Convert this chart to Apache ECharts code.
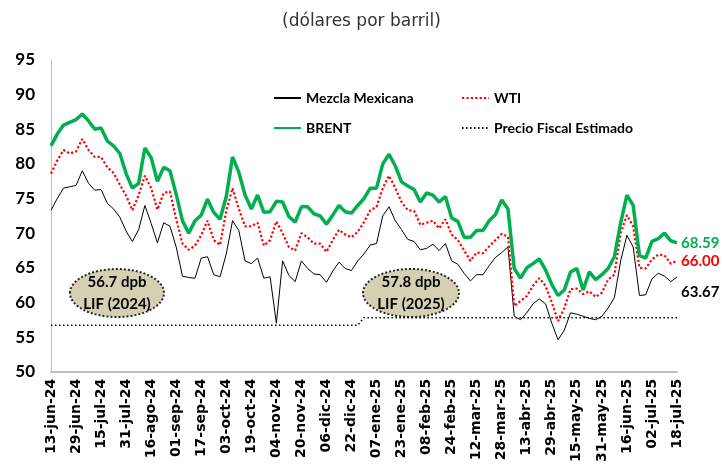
<!DOCTYPE html>
<html>
<head>
<meta charset="utf-8">
<script src="https://cdn.jsdelivr.net/npm/echarts@6/dist/echarts.min.js"></script>
<style>
  html, body { margin: 0; padding: 0; background: #fff; }
  #chart { width: 723px; height: 465px; }
</style>
</head>
<body>
<div id="chart"></div>
<script>
// fechas cada 4 dias, de 13-jun-24 a 18-jul-25
const MESES = ['ene', 'feb', 'mar', 'abr', 'may', 'jun', 'jul', 'ago', 'sep', 'oct', 'nov', 'dic']
const categories = []
for (let i = 0; i <= 100; i++) {
  const d = new Date(Date.UTC(2024, 5, 13 + i * 4))
  categories.push(String(d.getUTCDate()).padStart(2, '0') + '-' + MESES[d.getUTCMonth()] + '-' + String(d.getUTCFullYear()).slice(2))
}

const mezcla = [
  73.3, 75.0, 76.5, 76.7, 76.9, 79.0, 77.2, 76.2, 76.3, 74.3,
  73.5, 72.3, 70.3, 68.8, 70.5, 74.0, 71.4, 68.6, 71.5, 71.0,
  68.0, 63.8, 63.6, 63.5, 66.4, 66.6, 64.0, 63.7, 67.0, 71.8,
  70.4, 66.0, 65.6, 66.4, 63.5, 63.7, 57.0, 66.0, 63.9, 63.0,
  66.0, 64.9, 64.1, 64.0, 62.9, 64.5, 65.8, 64.9, 64.6, 66.0,
  67.0, 68.3, 68.5, 72.5, 73.8, 71.8, 70.5, 69.1, 68.8, 67.6,
  67.8, 68.4, 67.5, 68.5, 66.0, 65.5, 64.2, 63.1, 64.0, 64.0,
  65.3, 66.5, 67.2, 68.0, 58.0, 57.5, 58.5, 59.8, 60.5, 59.8,
  57.0, 54.6, 56.0, 58.5, 58.3, 58.0, 57.7, 57.5, 58.0, 59.2,
  60.7, 66.0, 69.7, 68.0, 61.0, 61.1, 63.4, 64.2, 63.8, 63.0,
  63.67
]
const wti = [
  78.6, 80.5, 82.0, 81.5, 81.8, 83.6, 82.0, 81.0, 81.0, 79.5,
  78.7, 77.0, 75.4, 73.3, 75.5, 78.3, 76.5, 73.4, 75.8, 76.0,
  72.0, 68.5, 67.6, 68.2, 69.7, 71.8, 69.0, 68.3, 73.2, 76.5,
  73.5, 71.0, 71.0, 71.5, 68.2, 69.0, 71.7, 70.0, 68.0, 67.5,
  70.0, 69.4, 68.5, 68.5, 67.3, 69.0, 70.5, 69.8, 69.4, 70.2,
  71.6, 73.3, 73.8, 76.5, 78.3, 76.5, 74.5, 73.3, 73.2, 71.2,
  71.5, 71.8, 70.7, 72.0, 69.8, 69.0, 67.5, 66.0, 67.2, 67.1,
  68.1, 69.0, 69.9, 69.5, 59.5, 60.2, 60.9, 62.4, 63.5, 62.4,
  60.0, 57.3, 59.2, 61.9, 62.0, 61.2, 61.6, 60.8, 61.4, 63.3,
  64.0, 70.0, 72.6, 71.0, 65.0, 64.9, 66.2, 66.9, 66.8, 65.6,
  66.00
]
const brent = [
  82.6, 84.3, 85.6, 86.0, 86.4, 87.2, 86.2, 85.0, 85.2, 83.3,
  82.6, 81.5, 78.6, 76.5, 77.2, 82.3, 80.9, 77.5, 79.5, 79.0,
  75.6, 71.8, 70.0, 71.8, 72.6, 74.9, 73.0, 72.0, 75.3, 81.0,
  78.8, 75.5, 73.5, 75.5, 73.0, 73.1, 74.6, 74.5, 72.4, 71.6,
  73.8, 73.8, 72.8, 72.5, 71.3, 72.6, 74.0, 73.1, 72.9, 74.0,
  75.0, 76.5, 76.5, 80.0, 81.4, 79.7, 77.4, 76.8, 76.3, 74.5,
  75.8, 75.5, 74.5, 75.3, 72.2, 71.7, 69.4, 69.4, 70.4, 70.4,
  71.8, 72.7, 74.8, 73.5, 64.9, 63.5, 65.0, 65.6, 66.3, 64.7,
  62.6, 61.0, 61.8, 64.4, 64.9, 61.8, 64.4, 63.3, 64.0, 64.9,
  66.6, 71.5, 75.5, 74.0, 66.8, 66.4, 68.8, 69.2, 70.0, 68.9,
  68.59
]
// precio fiscal estimado (LIF 2024 y LIF 2025)
const fiscalFechas = ['13-jun-24', '26-dic-24', '30-dic-24', '18-jul-25']
const fiscalValores = [56.7, 56.7, 57.8, 57.8]

const FONT = 'Lato, "Open Sans", sans-serif'
const myChart = echarts.init(document.getElementById('chart'))

const legendBase = {
  padding: 0,
  itemWidth: 27,
  itemHeight: 12,
  itemGap: 5,
  itemStyle: { opacity: 0 },
  textStyle: { fontFamily: FONT, fontWeight: 'bold', fontSize: 14, color: '#000' }
}

const endLabelBase = {
  show: true,
  formatter: p => p.value.toFixed(2),
  distance: 4,
  fontFamily: FONT,
  fontWeight: 'bold',
  fontSize: 15
}

const option = {
  animation: false,
  title: {
    text: '(dólares por barril)',
    left: 'center',
    top: 8,
    textStyle: { fontFamily: '"DejaVu Sans", sans-serif', fontWeight: 'normal', fontSize: 17, color: '#333' }
  },
  legend: [
    { ...legendBase, data: ['Mezcla Mexicana'], left: 273, top: 91 },
    { ...legendBase, data: ['WTI'], left: 461, top: 91 },
    { ...legendBase, data: ['BRENT'], left: 273, top: 121 },
    { ...legendBase, data: ['Precio Fiscal Estimado'], left: 461, top: 121 }
  ],
  grid: { left: 51, right: 46, top: 60, bottom: 93, containLabel: false },
  xAxis: {
    type: 'category',
    data: categories,
    boundaryGap: false,
    axisLine: { lineStyle: { color: '#bfbfbf', width: 2 } },
    axisTick: { show: false },
    axisLabel: {
      interval: 3,
      rotate: 90,
      margin: 7,
      fontFamily: '"DejaVu Sans", sans-serif',
      fontWeight: 'bold',
      fontSize: 14,
      color: '#000'
    }
  },
  yAxis: {
    type: 'value',
    min: 50,
    max: 95,
    interval: 5,
    splitLine: { show: false },
    axisTick: { show: false },
    axisLine: { show: true, lineStyle: { color: '#bfbfbf', width: 1 } },
    axisLabel: { margin: 16, fontFamily: FONT, fontWeight: 'bold', fontSize: 17, color: '#000' }
  },
  series: [
    {
      name: 'Precio Fiscal Estimado',
      type: 'line',
      data: fiscalFechas.map((f, i) => [f, fiscalValores[i]]),
      symbol: 'none',
      lineStyle: { color: '#000', width: 1.5, type: [1.5, 2.5] },
      itemStyle: { color: '#000' }
    },
    {
      name: 'Mezcla Mexicana',
      type: 'line',
      data: mezcla,
      symbol: 'none',
      lineStyle: { color: '#000', width: 1 },
      itemStyle: { color: '#000' },
      endLabel: { ...endLabelBase, offset: [0, 15], color: '#000' }
    },
    {
      name: 'WTI',
      type: 'line',
      data: wti,
      symbol: 'none',
      lineStyle: { color: '#ff0000', width: 2.2, type: [2.2, 2.2] },
      itemStyle: { color: '#ff0000' },
      endLabel: { ...endLabelBase, color: '#ff0000' }
    },
    {
      name: 'BRENT',
      type: 'line',
      data: brent,
      symbol: 'none',
      lineStyle: { color: '#00b050', width: 3.5 },
      itemStyle: { color: '#00b050' },
      endLabel: { ...endLabelBase, color: '#00b050' }
    }
  ],
  graphic: [
    {
      type: 'ellipse',
      shape: { cx: 117, cy: 293, rx: 47, ry: 24 },
      style: { fill: '#d6d0b2', stroke: '#262626', lineWidth: 2, lineDash: [2, 2] }
    },
    {
      type: 'text', x: 117, y: 282,
      style: { text: '56.7 dpb', font: 'bold 15px Lato', fill: '#000', align: 'center', verticalAlign: 'middle' }
    },
    {
      type: 'text', x: 117, y: 304,
      style: { text: 'LIF (2024)', font: 'bold 15px Lato', fill: '#000', align: 'center', verticalAlign: 'middle' }
    },
    {
      type: 'ellipse',
      shape: { cx: 411, cy: 293, rx: 48, ry: 24 },
      style: { fill: '#d6d0b2', stroke: '#262626', lineWidth: 2, lineDash: [2, 2] }
    },
    {
      type: 'text', x: 411, y: 282,
      style: { text: '57.8 dpb', font: 'bold 15px Lato', fill: '#000', align: 'center', verticalAlign: 'middle' }
    },
    {
      type: 'text', x: 411, y: 304,
      style: { text: 'LIF (2025)', font: 'bold 15px Lato', fill: '#000', align: 'center', verticalAlign: 'middle' }
    }
  ]
}

myChart.setOption(option)
</script>
</body>
</html>
